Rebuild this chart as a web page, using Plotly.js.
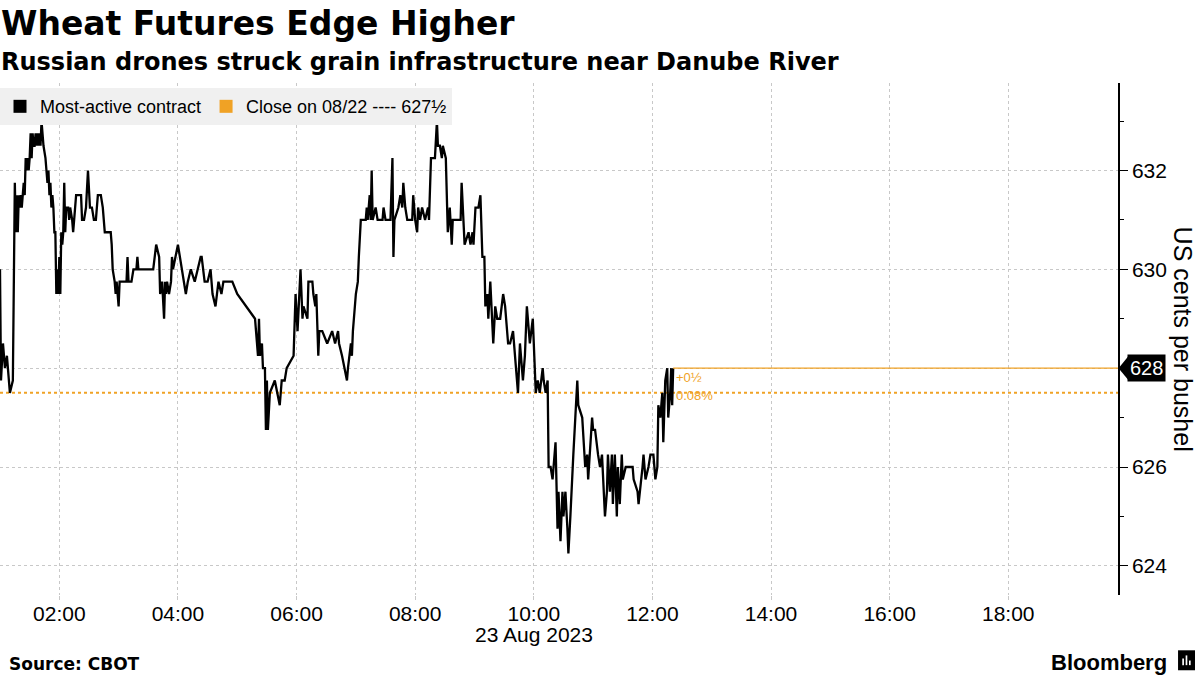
<!DOCTYPE html>
<html>
<head>
<meta charset="utf-8">
<script src="https://cdn.plot.ly/plotly-3.0.1.min.js"></script>
<style>
html,body{margin:0;padding:0;background:#fff;}
#chart{width:1200px;height:675px;}
</style>
</head>
<body>
<div id="chart"></div>
<script>
// ---- Data (23 Aug 2023, most-active CBOT wheat contract, US cents per bushel) ----
const sessionDate = '2023-08-23';
const times = [
'01:00','01:01','01:03','01:05','01:07','01:10','01:13','01:14','01:15','01:16','01:17','01:18','01:19','01:20','01:21','01:22','01:23','01:24','01:25','01:26','01:27','01:28','01:29','01:30','01:31','01:32','01:33','01:34','01:35','01:36','01:37','01:38','01:39','01:40','01:41','01:42','01:44','01:46','01:47','01:48','01:49','01:50','01:51','01:52','01:53','01:54','01:55','01:56','01:57','01:58','01:59',
'02:00','02:01','02:02','02:03','02:04','02:05','02:06','02:07','02:09','02:10','02:11','02:13','02:14','02:15','02:17','02:22','02:23','02:25','02:27','02:29','02:30','02:31','02:33','02:35','02:37','02:38','02:39','02:42','02:44','02:46','02:52','02:53','02:54','02:56','02:57','02:58',
'03:00','03:01','03:08','03:09','03:10','03:13','03:15','03:18','03:19','03:20','03:35','03:38','03:41','03:42','03:44','03:46','03:47','03:48','03:49','03:51','03:53','03:54','03:55',
'04:00','04:04','04:08','04:10','04:13','04:17','04:20','04:23','04:24','04:27','04:30','04:33','04:35','04:38','04:41','04:44','04:46','04:55',
'05:00','05:18','05:19','05:21','05:22','05:23','05:25','05:26','05:28','05:29','05:30','05:31','05:33','05:38','05:43','05:45','05:48','05:50','05:57','05:59',
'06:01','06:04','06:06','06:07','06:11','06:12','06:16','06:17','06:19','06:20','06:22','06:23','06:26','06:31','06:36','06:39','06:42','06:43','06:46','06:51','06:52','06:55','06:56','06:57',
'07:00','07:02','07:03','07:05','07:07','07:10','07:11','07:12','07:14','07:15','07:16','07:17','07:20','07:22','07:27','07:28','07:30','07:35','07:37','07:38','07:39','07:43','07:45','07:47','07:48','07:50','07:52','07:57','07:58',
'08:00','08:02','08:03','08:05','08:07','08:10','08:13','08:14','08:16','08:20','08:22','08:23','08:25','08:27','08:28','08:31','08:32','08:33','08:35','08:36','08:37','08:38','08:46','08:47','08:49','08:50','08:54','08:56','08:58','08:59',
'09:01','09:04','09:06','09:08','09:10','09:11','09:13','09:14','09:16','09:18','09:19','09:21','09:23','09:26','09:29','09:31','09:34','09:36','09:39','09:44','09:46','09:49','09:51','09:53','09:56','09:59',
'10:01','10:02','10:04','10:06','10:09','10:10','10:12','10:14','10:15','10:17','10:19','10:20','10:22','10:24','10:25','10:27','10:29','10:30','10:32','10:34','10:35','10:37','10:39','10:40','10:42','10:44','10:45','10:49','10:52','10:54','10:55','10:57','10:59',
'11:00','11:02','11:05','11:07','11:09','11:12','11:14','11:15','11:17','11:19','11:20','11:22','11:24','11:25','11:27','11:29','11:30','11:33','11:40','11:41','11:45','11:46','11:50','11:51','11:53','11:56','11:58',
'12:01','12:03','12:05','12:06','12:08','12:10','12:11','12:13','12:15','12:16','12:18','12:19','12:20','12:21'
];
const prices = [
630.0,627.75,628.5,628.0,628.25,627.5,627.75,629.25,631.75,630.75,631.5,630.75,631.5,631.25,631.5,631.25,631.5,631.75,631.5,632.25,632.0,632.25,632.0,632.25,632.75,632.25,632.75,632.5,632.5,632.75,632.5,632.75,632.5,632.75,632.5,633.0,632.5,632.25,632.0,631.75,632.0,631.5,631.75,631.25,631.5,631.25,630.75,630.75,629.5,630.0,629.5,
630.25,629.5,630.75,630.5,630.75,631.75,630.75,631.25,631.25,631.0,631.25,631.0,630.75,631.0,631.5,631.5,631.0,631.0,631.25,632.0,631.5,631.25,631.25,631.0,631.0,631.25,631.5,631.5,631.25,630.75,630.75,630.5,630.0,629.75,629.5,629.75,
629.25,629.75,629.75,630.25,629.75,629.75,630.0,630.0,630.25,630.0,630.0,630.5,630.25,629.5,629.75,629.0,629.75,629.5,629.75,629.5,629.75,630.25,630.0,
630.5,630.0,629.5,629.75,630.0,629.75,630.0,630.25,630.25,629.75,629.75,630.0,629.5,629.25,629.75,629.5,629.75,629.75,
629.5,629.0,628.75,628.25,629.0,628.25,628.5,628.0,628.0,626.75,627.75,626.75,627.5,627.75,627.25,627.75,627.75,628.0,628.25,629.5,
628.75,630.0,629.0,629.25,629.0,629.75,629.75,629.5,629.25,629.5,628.25,628.75,628.75,628.5,628.75,628.5,628.75,628.5,628.25,627.75,628.0,628.5,628.25,628.75,
629.5,629.75,630.25,631.0,631.0,631.0,631.25,631.0,631.5,631.0,632.0,631.0,631.25,631.0,631.0,631.25,631.0,631.0,632.25,630.25,631.0,631.25,631.5,631.25,631.75,631.25,631.0,631.0,631.5,
631.0,630.75,631.25,631.0,631.25,631.0,631.25,631.0,632.25,632.25,633.0,632.5,632.5,632.25,632.5,632.25,631.25,630.75,631.25,630.75,630.5,631.0,631.0,631.75,631.0,630.5,630.75,630.5,630.75,630.5,
631.25,631.25,631.5,630.25,630.25,629.25,629.5,629.0,629.75,628.75,628.5,629.25,629.0,629.0,629.5,629.25,628.5,628.5,628.75,627.5,628.5,627.75,628.25,629.25,628.5,629.0,
628.0,627.5,627.75,627.5,628.0,627.75,627.5,627.75,626.0,626.0,625.75,626.0,626.5,624.75,625.5,624.5,625.5,625.0,625.5,624.75,624.25,625.0,626.0,626.25,627.0,627.75,627.25,627.0,626.0,626.25,625.75,626.5,627.0,
626.75,626.75,626.25,626.0,626.25,625.0,625.5,626.25,625.5,626.25,625.25,626.25,625.0,626.0,625.25,626.25,625.75,626.0,626.0,625.75,625.5,625.25,626.0,626.25,625.75,626.0,626.25,
626.25,625.75,626.0,627.25,627.0,627.5,626.5,627.75,628.0,627.0,627.5,628.0,627.25,628.0
];
const seriesName = 'Most-active contract';
const prevCloseLabel = 'Close on 08/22 ---- 627½';
const prevClose = 627.5;
const lastChange = '+0½';
const lastChangePct = '0.08%';
const xStart = '01:00', xEnd = '19:51';
const yMin = 623.41, yMax = 633.77;
const yTickVals = [624, 626, 628, 630, 632];

const colBlack = '#000000', colOrange = '#f0a225';
const xs = times.map(t => sessionDate + ' ' + t);
const lastX = xs[xs.length - 1];
const lastY = prices[prices.length - 1];
// the last-price tag replaces its own tick label
const yTickText = yTickVals.map(v => (v === lastY ? '' : String(v)));

const tickFont = {family: 'Liberation Sans, Arial, sans-serif', size: 21, color: '#000'};

const traces = [
  {x: xs, y: prices, type: 'scatter', mode: 'lines', name: seriesName,
   line: {color: colBlack, width: 2.3}, showlegend: false, hoverinfo: 'x+y'},
  {x: [null], y: [null], type: 'scatter', mode: 'markers', name: seriesName,
   marker: {symbol: 'square', size: 13, color: colBlack}, showlegend: true},
  {x: [null], y: [null], type: 'scatter', mode: 'markers', name: prevCloseLabel,
   marker: {symbol: 'square', size: 13, color: colOrange}, showlegend: true}
];

const layout = {
  width: 1200, height: 675,
  margin: {l: 0, r: 82, t: 83, b: 80},
  paper_bgcolor: '#fff', plot_bgcolor: '#fff',
  font: {family: 'Liberation Sans, Arial, sans-serif', color: '#000'},
  showlegend: true,
  legend: {orientation: 'h', x: 0, y: 0.99, xanchor: 'left', yanchor: 'top',
           bgcolor: '#f0f0f0', borderwidth: 0,
           font: {family: 'Liberation Sans, Arial, sans-serif', size: 18, color: '#000'},
           itemwidth: 30, tracegroupgap: 0},
  xaxis: {
    type: 'date',
    range: [sessionDate + ' ' + xStart, sessionDate + ' ' + xEnd],
    dtick: 2 * 3600 * 1000,
    tick0: sessionDate + ' 00:00',
    tickformat: '%H:%M',
    tickfont: tickFont,
    showgrid: true, gridcolor: '#c8c8c8', griddash: 'dot', gridwidth: 1,
    ticks: 'outside', ticklen: 4, tickcolor: '#c8c8c8',
    ticklabelstandoff: -4,
    showline: false, zeroline: false, fixedrange: true
  },
  yaxis: {
    side: 'right',
    range: [yMin, yMax],
    tickmode: 'array', tickvals: yTickVals, ticktext: yTickText,
    tickfont: tickFont,
    showgrid: true, gridcolor: '#c8c8c8', griddash: 'dot', gridwidth: 1,
    ticks: 'outside', ticklen: 8, tickcolor: '#000', tickwidth: 1,
    minor: {dtick: 1, tick0: 0, ticks: 'outside', ticklen: 4, tickcolor: '#000', showgrid: false},
    showline: true, linecolor: '#000', linewidth: 1.5,
    zeroline: false, fixedrange: true
  },
  shapes: [
    {type: 'line', xref: 'paper', x0: 0, x1: 1, yref: 'y', y0: prevClose, y1: prevClose,
     line: {color: colOrange, width: 2, dash: 'dot'}, layer: 'below'},
    {type: 'line', xref: 'x', x0: lastX, x1: sessionDate + ' ' + xEnd, yref: 'y', y0: lastY, y1: lastY,
     line: {color: colOrange, width: 1.2}},
    {type: 'path', xref: 'paper', yref: 'y',
     path: 'M 1.0005 ' + lastY + ' L 1.009 ' + (lastY + 0.235) + ' L 1.009 ' + (lastY - 0.235) + ' Z',
     fillcolor: '#000', line: {width: 0}},
    // Bloomberg logo block
    {type: 'rect', xref: 'paper', yref: 'paper', x0: 1.0537, x1: 1.0689, y0: -0.147, y1: -0.108,
     fillcolor: '#000', line: {width: 0}},
    {type: 'rect', xref: 'paper', yref: 'paper', x0: 1.0575, x1: 1.0590, y0: -0.137, y1: -0.124,
     fillcolor: '#fff', line: {width: 0}},
    {type: 'rect', xref: 'paper', yref: 'paper', x0: 1.0605, x1: 1.0620, y0: -0.137, y1: -0.118,
     fillcolor: '#fff', line: {width: 0}},
    {type: 'rect', xref: 'paper', yref: 'paper', x0: 1.0635, x1: 1.0650, y0: -0.137, y1: -0.128,
     fillcolor: '#fff', line: {width: 0}}
  ],
  annotations: [
    {xref: 'paper', yref: 'paper', x: -0.0005, y: 1.074, xanchor: 'left', yanchor: 'bottom',
     text: '<b>Wheat Futures Edge Higher</b>', showarrow: false,
     font: {family: 'DejaVu Sans, sans-serif', size: 33, color: '#000'}},
    {xref: 'paper', yref: 'paper', x: -0.0005, y: 1.010, xanchor: 'left', yanchor: 'bottom',
     text: '<b>Russian drones struck grain infrastructure near Danube River</b>', showarrow: false,
     font: {family: 'DejaVu Sans, sans-serif', size: 24, color: '#000'}},
    {xref: 'x', yref: 'paper', x: sessionDate + ' 10:00', y: -0.050, xanchor: 'center', yanchor: 'top',
     text: '23 Aug 2023', showarrow: false, font: tickFont},
    {xref: 'paper', yref: 'y', x: 1.008, y: lastY, xanchor: 'left', yanchor: 'middle',
     text: String(lastY), showarrow: false, bgcolor: '#000', borderpad: 2,
     font: {family: 'Liberation Sans, Arial, sans-serif', size: 20, color: '#fff'}},
    {xref: 'paper', yref: 'paper', x: 1.0585, y: 0.5, xanchor: 'center', yanchor: 'middle',
     text: 'US cents per bushel', textangle: 90, showarrow: false,
     font: {family: 'Liberation Sans, Arial, sans-serif', size: 25, color: '#000'}},
    {xref: 'x', yref: 'y', x: lastX, y: lastY, xanchor: 'left', yanchor: 'middle', xshift: 1, yshift: -9,
     text: lastChange, showarrow: false,
     font: {family: 'Liberation Sans, Arial, sans-serif', size: 13, color: colOrange}},
    {xref: 'x', yref: 'y', x: lastX, y: prevClose, xanchor: 'left', yanchor: 'middle', xshift: 1, yshift: -3,
     text: lastChangePct, showarrow: false,
     font: {family: 'Liberation Sans, Arial, sans-serif', size: 13, color: colOrange}},
    {xref: 'paper', yref: 'paper', x: 0.006, y: -0.112, xanchor: 'left', yanchor: 'top',
     text: '<b>Source: CBOT</b>', showarrow: false,
     font: {family: 'DejaVu Sans, sans-serif', size: 17, color: '#000'}},
    {xref: 'paper', yref: 'paper', x: 1.046, y: -0.104, xanchor: 'right', yanchor: 'top',
     text: '<b>Bloomberg</b>', showarrow: false,
     font: {family: 'Liberation Sans, Arial, sans-serif', size: 22, color: '#000'}}
  ]
};

Plotly.newPlot('chart', traces, layout, {displayModeBar: false, responsive: false});
</script>
</body>
</html>
